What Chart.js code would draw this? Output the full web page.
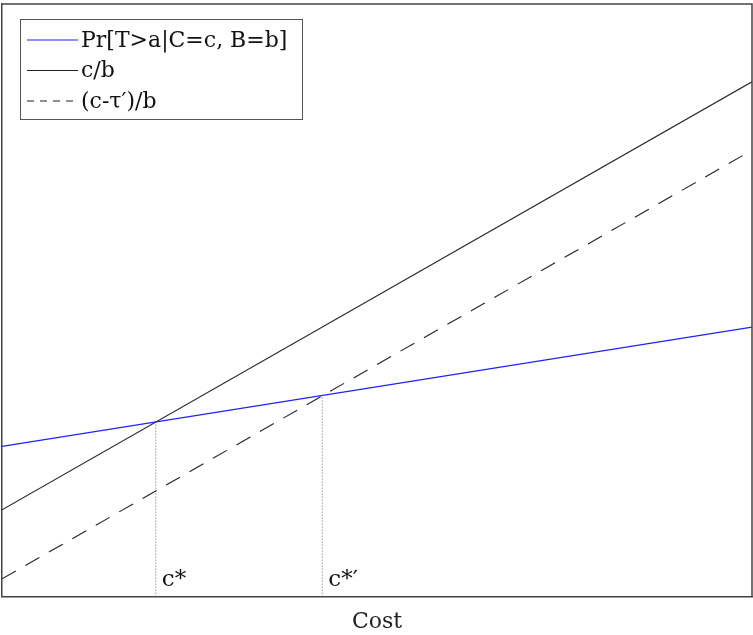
<!DOCTYPE html>
<html>
<head>
<meta charset="utf-8">
<script src="https://cdn.jsdelivr.net/npm/chart.js@4/dist/chart.umd.min.js"></script>
<style>
  html, body { margin: 0; padding: 0; background: #fff; }
  #wrap { width: 753px; height: 635px; }
</style>
</head>
<body>
<div id="wrap"><canvas id="chart"></canvas></div>
<script>
// data (cost on x, 0..10; value on y, 0..10)
const costRange = [0, 10];
const probLine = [2.535, 4.546];
const ratioLine = [1.465, 8.687];
const shiftedLine = [0.299, 7.532];
const thresholdX = [2.05, 4.27];
const thresholdY = [2.95, 3.39];
const thresholdLabels = ['c*', 'c*′'];
const seriesLabels = ['Pr[T>a|C=c, B=b]', 'c/b', '(c-τ′)/b'];

const FONT = "'DejaVu Serif', 'Liberation Serif', serif";

function pts(ys) {
    return costRange.map((x, i) => ({ x: x, y: ys[i] }));
}

const datasets = [
    { label: seriesLabels[0], data: pts(probLine), borderColor: '#2020ff', borderWidth: 1.2, showLegend: true },
    { label: seriesLabels[1], data: pts(ratioLine), borderColor: '#222', borderWidth: 1.1, showLegend: true },
    { label: seriesLabels[2], data: pts(shiftedLine), borderColor: '#222', borderWidth: 1.1, borderDash: [16, 11], legendDash: [7, 6], showLegend: true }
];
thresholdX.forEach((x, i) => {
    datasets.push({
        label: thresholdLabels[i],
        data: [{ x: x, y: 0 }, { x: x, y: thresholdY[i] }],
        borderColor: '#666', borderWidth: 1, borderDash: [1, 2],
        markLabel: thresholdLabels[i]
    });
});

// legend box + threshold labels
const overlay = {
    id: 'overlay',
    afterDatasetsDraw(chart) {
        const ctx = chart.ctx;
        const xs = chart.scales.x;
        ctx.save();
        // c* labels
        ctx.font = '23px ' + FONT;
        ctx.fillStyle = '#111';
        ctx.textBaseline = 'alphabetic';
        chart.data.datasets.forEach(ds => {
            if (!ds.markLabel) return;
            ctx.fillText(ds.markLabel, xs.getPixelForValue(ds.data[0].x) + 6, chart.chartArea.bottom - 11);
        });
        // legend
        const bx = 20, by = 19, bw = 282, bh = 100;
        ctx.fillStyle = '#fff';
        ctx.fillRect(bx, by, bw, bh);
        ctx.strokeStyle = '#555';
        ctx.lineWidth = 1;
        ctx.strokeRect(bx + 0.5, by + 0.5, bw, bh);
        ctx.font = '22px ' + FONT;
        ctx.textBaseline = 'middle';
        let row = 0;
        chart.data.datasets.forEach(ds => {
            if (!ds.showLegend) return;
            const y = 40 + row * 30.5;
            ctx.beginPath();
            ctx.setLineDash(ds.legendDash || []);
            ctx.strokeStyle = ds.borderColor;
            ctx.lineWidth = ds.borderWidth;
            ctx.moveTo(27, y);
            ctx.lineTo(78, y);
            ctx.stroke();
            ctx.setLineDash([]);
            ctx.fillStyle = '#111';
            ctx.fillText(ds.label, 81, y + 1);
            row++;
        });
        // top & right frame
        const a = chart.chartArea;
        ctx.strokeStyle = '#444';
        ctx.lineWidth = 1.5;
        ctx.beginPath();
        ctx.moveTo(a.left, a.top);
        ctx.lineTo(a.right, a.top);
        ctx.lineTo(a.right, a.bottom);
        ctx.stroke();
        ctx.restore();
    }
};

new Chart(document.getElementById('chart'), {
    type: 'line',
    data: { datasets: datasets },
    options: {
        responsive: true,
        maintainAspectRatio: false,
        animation: false,
        layout: { padding: { left: 2, top: 4, right: 1, bottom: 0 } },
        elements: { point: { radius: 0 }, line: { tension: 0 } },
        plugins: { legend: { display: false }, tooltip: { enabled: false } },
        scales: {
            x: {
                type: 'linear', min: costRange[0], max: costRange[1],
                grid: { display: false, drawTicks: false },
                border: { display: true, color: '#444', width: 1.5 },
                ticks: { display: false },
                title: { display: true, text: 'Cost', color: '#222', font: { family: FONT, size: 22 }, padding: { top: 12, bottom: 0 } }
            },
            y: {
                type: 'linear', min: 0, max: 10,
                grid: { display: false, drawTicks: false },
                border: { display: true, color: '#444', width: 1.5 },
                ticks: { display: false }
            }
        }
    },
    plugins: [overlay]
});
</script>
</body>
</html>
